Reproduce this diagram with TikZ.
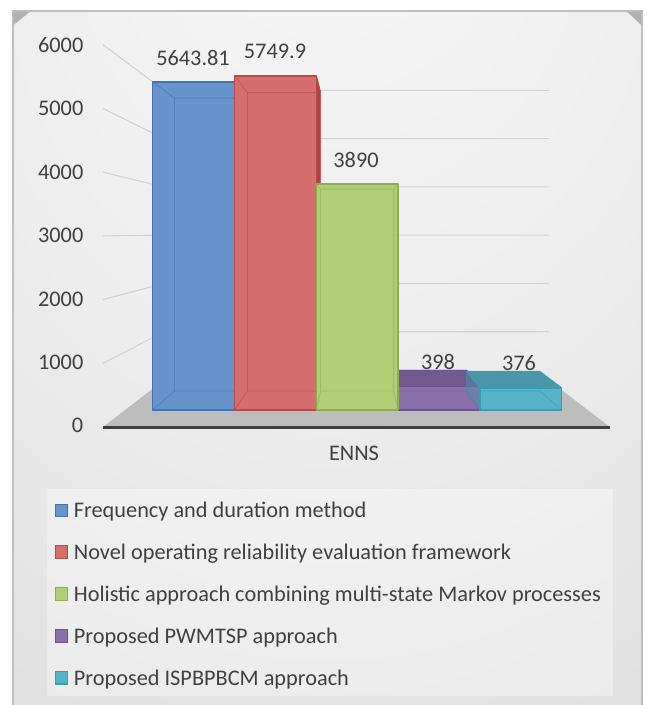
\documentclass[tikz,border=0pt]{standalone}
\usepackage{fontspec}
\setmainfont{Carlito}
\definecolor{txt}{HTML}{404040}
\definecolor{gridc}{HTML}{D2D2D2}
\definecolor{framec}{HTML}{BFBFBF}
\definecolor{bevelc}{HTML}{B2B2B2}
\definecolor{floorc}{HTML}{BDBDBD}
\definecolor{floorline}{HTML}{3F3F3F}
\definecolor{bgA}{HTML}{F8F8F8}
\definecolor{bgB}{HTML}{EDEDED}
\definecolor{bgC}{HTML}{DEDEDE}
\definecolor{bgD}{HTML}{CFCFCF}
\definecolor{bgE}{HTML}{C4C4C4}
\definecolor{blueF}{HTML}{6794CB}
\definecolor{blueE}{HTML}{4272B8}
\definecolor{redF}{HTML}{D56E6E}
\definecolor{redE}{HTML}{B94A4A}
\definecolor{redS}{HTML}{A84444}
\definecolor{greenF}{HTML}{B2CF77}
\definecolor{greenE}{HTML}{8CB04A}
\definecolor{purpleF}{HTML}{8A70AB}
\definecolor{purpleE}{HTML}{6B5196}
\definecolor{purpleT}{HTML}{735A8C}
\definecolor{cyanF}{HTML}{56B3C8}
\definecolor{cyanE}{HTML}{3B9DB3}
\definecolor{cyanT}{HTML}{4896A8}
\pgfdeclareradialshading{bgrad}{\pgfpoint{0bp}{40bp}}{color(0bp)=(bgA); color(30bp)=(bgB); color(55bp)=(bgC); color(80bp)=(bgD); color(100bp)=(bgE)}
% coordinates of one bar: #1 name, #2 index, #3 value
\newcommand{\barcoords}[3]{%
  \pgfmathsetmacro\XL{133.1+89.7*#2}%
  \pgfmathsetmacro\XR{\XL+89.7}%
  \pgfmathsetmacro\YT{427-0.0637*#3}%
  \coordinate (#1fbl) at ({356+0.912*(\XL-356)},{233+0.912*194});
  \coordinate (#1fbr) at ({356+0.912*(\XR-356)},{233+0.912*194});
  \coordinate (#1ftl) at ({356+0.912*(\XL-356)},{233+0.912*(\YT-233)});
  \coordinate (#1ftr) at ({356+0.912*(\XR-356)},{233+0.912*(\YT-233)});
  \coordinate (#1bbl) at ({356+0.8144*(\XL-356)},{233+0.8144*194});
  \coordinate (#1bbr) at ({356+0.8144*(\XR-356)},{233+0.8144*194});
  \coordinate (#1btl) at ({356+0.8144*(\XL-356)},{233+0.8144*(\YT-233)});
  \coordinate (#1btr) at ({356+0.8144*(\XR-356)},{233+0.8144*(\YT-233)});
}
% body of one bar: #1 name, #2 fill, #3 edge
\newcommand{\barbody}[3]{%
  \fill[#2] (#1fbl) -- (#1fbr) -- (#1ftr) -- (#1ftl) -- cycle;
  \draw[#3, line width=0.9pt, draw opacity=0.55, line join=round]
    (#1bbl) -- (#1bbr) -- (#1btr) -- (#1btl) -- cycle
    (#1fbl) -- (#1bbl) (#1fbr) -- (#1bbr) (#1ftl) -- (#1btl) (#1ftr) -- (#1btr);
  \draw[#3, line width=1.3pt, line join=round] (#1fbl) -- (#1fbr) -- (#1ftr) -- (#1ftl) -- cycle;
}
\begin{document}
\begin{tikzpicture}[x=1pt,y=-1pt,
  lbl/.style={text=txt, font=\fontsize{22.3}{26}\selectfont, inner sep=0pt},
  gridline/.style={draw=gridc, line width=1.1pt},
  legmark/.style={line width=1.1pt},
  faceedge/.style={line width=1.1pt, line join=round}]
\useasboundingbox (0,0) rectangle (647,705);
% background and frame
\shade[shading=bgrad] (13,11) rectangle (642,705);
\draw[framec, line width=1.4pt] (13,705) -- (13,11) -- (642,11) -- (642,705);
\fill[bevelc] (13.5,11.7) -- (30,11.7) -- (13.5,25) -- cycle;
\fill[bevelc] (627,11.7) -- (641.3,11.7) -- (641.3,25) -- cycle;
% gridlines
\foreach \v in {1000,2000,...,6000}{
  \pgfmathsetmacro\yf{427-0.0637*\v}
  \pgfmathsetmacro\yb{233+0.758*(\yf-233)}
  \coordinate (gf\v) at (103,\yf);
  \coordinate (gb\v) at (164,\yb);
  \coordinate (ge\v) at (548.5,\yb);
  \draw[gridline] (gf\v) -- (gb\v) -- (ge\v);
}
% floor
\coordinate (flA) at (103,427);
\coordinate (flB) at (610,427);
\coordinate (flC) at (548.5,380);
\coordinate (flD) at (164,380);
\fill[floorc] (flA) -- (flB) -- (flC) -- (flD) -- cycle;
\draw[floorline, line width=3pt] (flA) -- (flB);
% value axis labels
\foreach \v [count=\k from 0] in {0,1000,2000,3000,4000,5000,6000}{
  \node[lbl, anchor=east] (ylab\k) at (83.5,{425.8-63.45*\k}) {\v};
}
% bars
\barcoords{B}{0}{5643.81}
\barcoords{R}{1}{5749.9}
\barcoords{G}{2}{3890}
\barcoords{P}{3}{398}
\barcoords{C}{4}{376}
\barbody{B}{blueF}{blueE}
\fill[redS] (Rfbr) -- (Rftr) -- (Rbtr) -- (Rbbr) -- cycle;
\draw[redE, faceedge] (Rftr) -- (Rbtr);
\barbody{R}{redF}{redE}
\fill[purpleT] (Pftl) -- (Pftr) -- (Pbtr) -- (Pbtl) -- cycle;
\draw[purpleE, faceedge] (Pftl) -- (Pbtl) -- (Pbtr) -- (Pftr);
\barbody{P}{purpleF}{purpleE}
\fill[cyanT] (Cftl) -- (Cftr) -- (Cbtr) -- (Cbtl) -- cycle;
\fill[cyanT, fill opacity=0.45] (Cfbl) -- (Cftl) -- (Cbtl) -- (Cbbl) -- cycle;
\draw[cyanE, faceedge] (Cftl) -- (Cbtl) -- (Cbtr) -- (Cftr);
\barbody{C}{cyanF}{cyanE}
\barbody{G}{greenF}{greenE}
% data labels
\node[lbl] (dB) at (193,57.5) {5643.81};
\node[lbl] (dR) at (275,51) {5749.9};
\node[lbl] (dG) at (356,159.5) {3890};
\node[lbl] (dP) at (438,362) {398};
\node[lbl] (dC) at (519,363) {376};
% category label
\node[lbl] (cat) at (354,453.7) {ENNS};
% legend
\fill[white, fill opacity=0.35] (46.8,489.3) rectangle (612.6,696);
\foreach \c/\e/\t [count=\i from 0] in {
  blueF/blueE/Frequency and duration method,
  redF/redE/Novel operating reliability evaluation framework,
  greenF/greenE/Holistic approach combining multi-state Markov processes,
  purpleF/purpleE/Proposed PWMTSP approach,
  cyanF/cyanE/Proposed ISPBPBCM approach}{
  \pgfmathsetmacro\ly{510.3+41.85*\i}
  \node[draw=\e, fill=\c, legmark, minimum size=12.5pt, inner sep=0pt] (lm\i) at (61.6,\ly) {};
  \node[lbl, anchor=base west] (lt\i) at (73.7,{\ly+7.3}) {\t};
}
\end{tikzpicture}
\end{document}
